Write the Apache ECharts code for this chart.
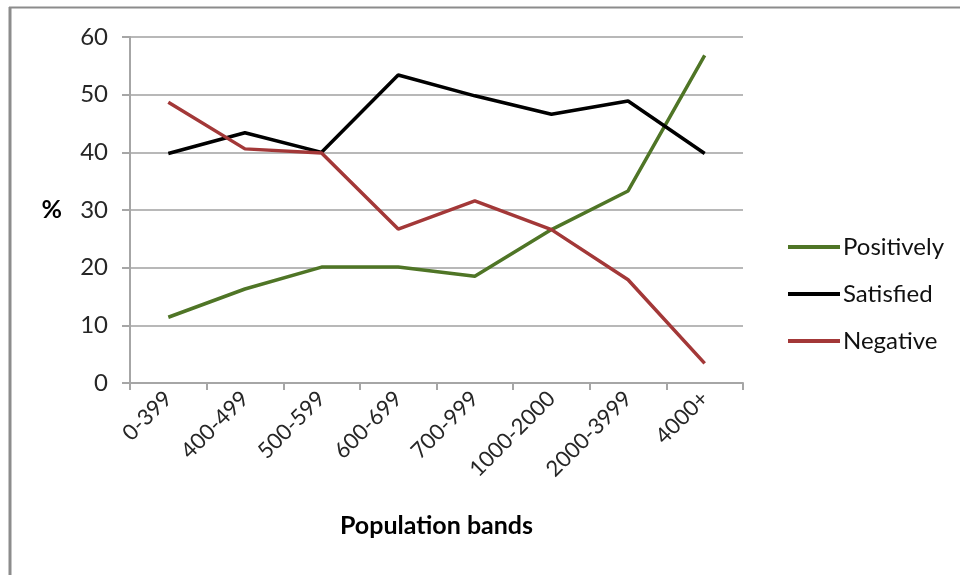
<!DOCTYPE html>
<html>
<head>
<meta charset="utf-8">
<script src="https://cdn.jsdelivr.net/npm/echarts@6/dist/echarts.min.js"></script>
<style>
html,body{margin:0;padding:0;background:#fff;}
#c{width:960px;height:575px;}
</style>
</head>
<body>
<div id="c"></div>
<script>
const categories = ['0-399','400-499','500-599','600-699','700-999','1000-2000','2000-3999','4000+'];
const positively = [11.4, 16.3, 20.1, 20.1, 18.5, 26.6, 33.3, 56.8];
const satisfied  = [39.8, 43.4, 40.0, 53.4, 49.8, 46.6, 48.9, 39.8];
const negative   = [48.7, 40.6, 39.9, 26.7, 31.6, 26.6, 17.9, 3.4];
const yTicks = [0, 10, 20, 30, 40, 50, 60];

const FONT = 'Lato, "Open Sans", sans-serif';
const chart = echarts.init(document.getElementById('c'), null, {renderer:'canvas'});
chart.setOption({
  animation: false,
  backgroundColor: '#ffffff',
  graphic: [
    {type:'line', shape:{x1:10, y1:7, x2:10, y2:580}, style:{stroke:'#8c8c8c', lineWidth:3}},
    {type:'line', shape:{x1:9, y1:7.5, x2:965, y2:7.5}, style:{stroke:'#8c8c8c', lineWidth:2}}
  ],
  grid: {left: 130, right: 217, top: 37, bottom: 192, containLabel: false},
  legend: {
    orient: 'vertical',
    left: 783,
    top: 230,
    icon: 'rect',
    itemWidth: 52,
    itemHeight: 4,
    itemGap: 23,
    textStyle: {fontFamily: FONT, fontSize: 24, color: '#111', padding:[0,0,0,-2]},
    data: ['Positively','Satisfied','Negative']
  },
  xAxis: {
    type: 'category',
    data: categories,
    boundaryGap: true,
    name: 'Population bands',
    nameLocation: 'middle',
    nameGap: 130,
    nameTextStyle: {fontFamily: FONT, fontSize: 25, fontWeight: 'bold', color: '#000'},
    axisLine: {lineStyle: {color: '#a6a6a6', width: 2}},
    axisTick: {show: true, length: 7, alignWithLabel: false, lineStyle: {color: '#a6a6a6', width: 2}},
    axisLabel: {rotate: 45, margin: 12, fontFamily: FONT, fontSize: 22, color: '#262626', interval: 0}
  },
  yAxis: {
    type: 'value',
    min: yTicks[0],
    max: yTicks[yTicks.length-1],
    interval: 10,
    name: '%',
    nameLocation: 'middle',
    nameRotate: 0,
    nameGap: 68,
    nameTextStyle: {fontFamily: FONT, fontSize: 25, fontWeight: 'bold', color: '#000'},
    axisLine: {show: true, lineStyle: {color: '#a6a6a6', width: 2}},
    axisTick: {show: true, length: 8, lineStyle: {color: '#a6a6a6', width: 2}},
    axisLabel: {margin: 22, fontFamily: FONT, fontSize: 24, color: '#262626'},
    splitLine: {show: true, lineStyle: {color: '#b8b8b8', width: 2}}
  },
  series: [
    {name:'Positively', type:'line', data: positively, symbol:'none', lineStyle:{width:3.5, color:'#4f7526'}, itemStyle:{color:'#4f7526'}},
    {name:'Satisfied', type:'line', data: satisfied, symbol:'none', lineStyle:{width:3.5, color:'#000000'}, itemStyle:{color:'#000000'}},
    {name:'Negative', type:'line', data: negative, symbol:'none', lineStyle:{width:3.5, color:'#a33838'}, itemStyle:{color:'#a33838'}}
  ]
});
</script>
</body>
</html>
